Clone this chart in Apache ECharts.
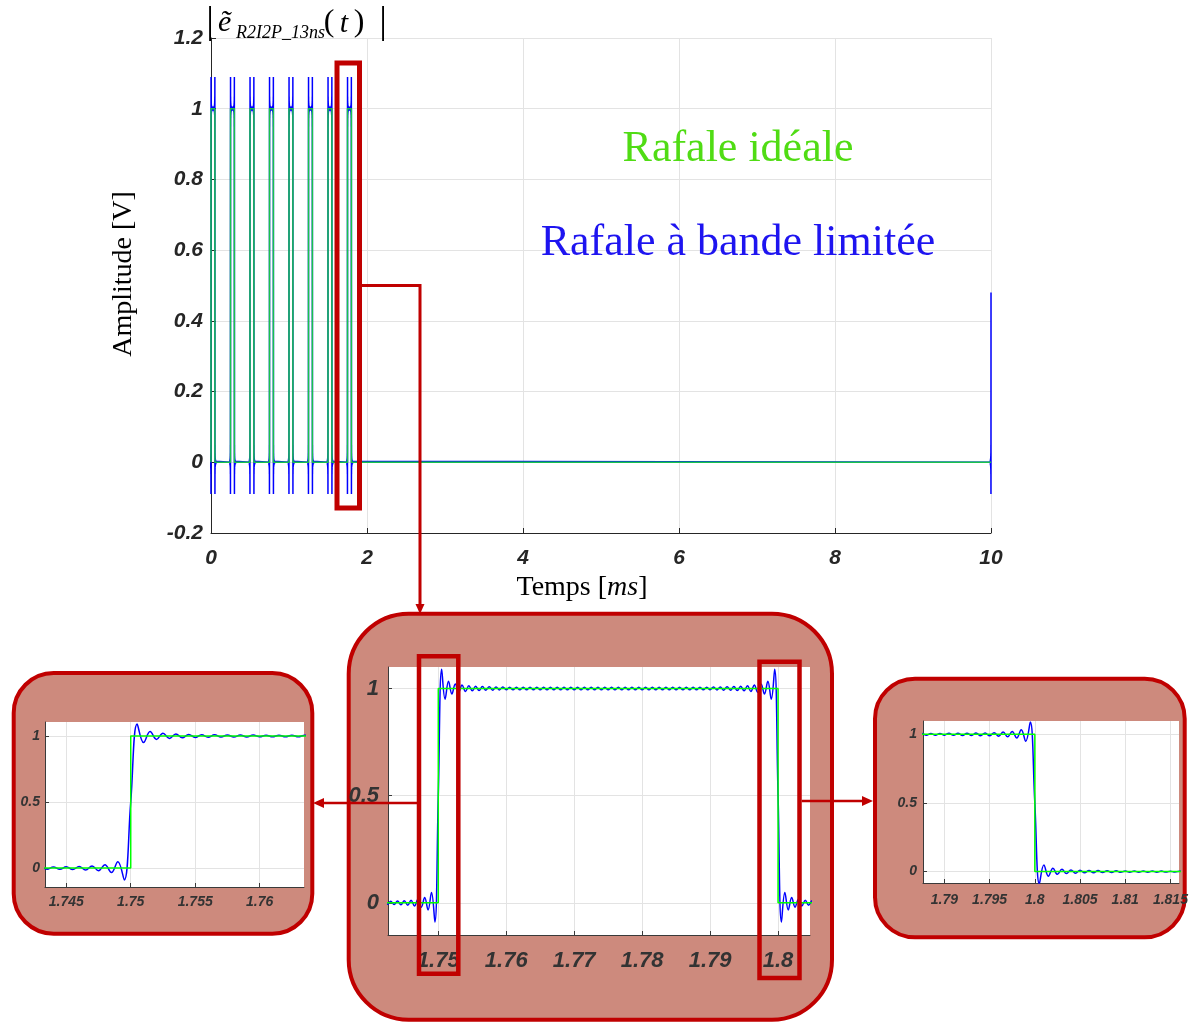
<!DOCTYPE html>
<html><head><meta charset="utf-8">
<script src="https://cdn.jsdelivr.net/npm/echarts@6/dist/echarts.min.js"></script>
<style>html,body{margin:0;padding:0;background:#fff}#c{width:1192px;height:1024px}</style>
</head><body><div id="c"></div>
<script>
// ---------- data ----------
const burstStartsMs = [0, 0.25, 0.5, 0.75, 1.0, 1.25, 1.5, 1.75];
const pulseWidthMs = 0.05;
const endTimeMs = 10;
// band-limited pulse, sampled every 0.5 us from -8.5 us to +66.5 us after each pulse start
const shapeStartUs = -8.5;
const shapeStepUs = 0.5;
const pulseShape = [
  0,
  0.0063,-0.0068,0.0072,-0.0078,0.0084,-0.0092,0.0101,-0.0112,0.0126,-0.0144,0.0168,-0.0201,0.0250,-0.0331,0.0486,-0.0895,
  0.5,
  1.090,0.950,1.034,0.974,1.021,0.982,1.016,0.986,1.012,0.989,1.010,0.990,1.009,0.992,1.008,0.992,1.007,0.993,1.007,0.994,
  1.006,0.994,1.006,0.994,1.006,0.994,1.006,0.994,1.006,0.994,
  1.006,0.994,1.006,0.994,1.006,0.994,1.006,0.994,1.006,0.994,
  1.006,0.994,1.006,0.994,1.006,0.994,1.006,0.994,1.006,0.994,
  1.006,0.994,1.006,0.994,1.006,0.994,1.006,0.994,1.006,0.994,
  1.006,0.994,1.006,0.994,1.006,0.994,1.006,0.994,1.006,0.994,
  1.006,0.994,1.006,0.994,1.006,0.994,1.006,0.994,1.006,
  0.994,1.007,0.993,1.007,0.992,1.008,0.992,1.009,0.990,1.010,0.989,1.012,0.986,1.016,0.982,1.021,0.974,1.034,0.950,1.090,
  0.5,
  -0.0895,0.0486,-0.0331,0.0250,-0.0201,0.0168,-0.0144,0.0126,-0.0112,0.0101,-0.0092,0.0084,-0.0078,0.0072,-0.0068,0.0063,
  -0.0060,0.0056,-0.0053,0.0051,-0.0048,0.0046,-0.0044,0.0042,-0.0041,0.0039,-0.0038,0.0036,-0.0035,0.0034,-0.0033,0.0032,
  0
];
// start of the next burst at t = 10 ms (samples from -8.5 us to 0)
const edgeAt10 = [0,0.0063,-0.0068,0.0072,-0.0078,0.0084,-0.0092,0.0101,-0.0112,0.0126,-0.0144,0.0168,-0.0201,0.0250,-0.0331,0.0486,-0.0895,0.48];

const midXTicks = [1.75, 1.76, 1.77, 1.78, 1.79, 1.8];
const leftXTicks = [1.745, 1.75, 1.755, 1.76];
const rightXTicks = [1.79, 1.795, 1.8, 1.805, 1.81, 1.815];
const insetYTicks = [0, 0.5, 1];

// ---------- build series ----------
const blue = [];
burstStartsMs.forEach(t0 => pulseShape.forEach((v, i) => blue.push([t0 + (shapeStartUs + i * shapeStepUs) / 1000, v])));
edgeAt10.forEach((v, i) => blue.push([endTimeMs + (shapeStartUs + i * shapeStepUs) / 1000, v]));
const green = [];
burstStartsMs.forEach(t0 => { green.push([t0, 0], [t0, 1], [t0 + pulseWidthMs, 1], [t0 + pulseWidthMs, 0]); });
green.push([endTimeMs, 0]);

const fmt = v => String(parseFloat((+v).toFixed(4)));
const labFont = (size, color, margin) => ({fontFamily: 'Liberation Sans', fontWeight: 'bold', fontStyle: 'italic', fontSize: size, color: color, margin: margin, formatter: fmt});
const GRIDC = '#e3e3e3';

function insetX(idx, min, max, ticks, size, margin) {
  return {gridIndex: idx, type: 'value', min, max,
    axisLine: {show: true, onZero: false, lineStyle: {color: '#3a3a3a', width: 1}},
    axisTick: {show: true, inside: true, length: 4, customValues: ticks, lineStyle: {color: '#3a3a3a'}},
    axisLabel: Object.assign(labFont(size, '#333', margin), {customValues: ticks}),
    splitLine: {show: true, lineStyle: {color: GRIDC}}};
}
function insetY(idx, min, max, size, margin) {
  return {gridIndex: idx, type: 'value', min, max,
    axisLine: {show: true, onZero: false, lineStyle: {color: '#3a3a3a', width: 1}},
    axisTick: {show: true, inside: true, length: 4, customValues: insetYTicks, lineStyle: {color: '#3a3a3a'}},
    axisLabel: Object.assign(labFont(size, '#333', margin), {customValues: insetYTicks}),
    splitLine: {show: true, lineStyle: {color: GRIDC}}};
}
function pair(idx, greenColor, smooth) {
  return [
    {type: 'line', xAxisIndex: idx, yAxisIndex: idx, data: blue, showSymbol: false, smooth: smooth, clip: true,
     lineStyle: {color: '#0000ff', width: 1.5}, z: 2},
    {type: 'line', xAxisIndex: idx, yAxisIndex: idx, data: green, showSymbol: false, clip: true,
     lineStyle: {color: greenColor, width: 1.5}, z: 3}
  ];
}

const RED = '#c00000';
const FILL = '#cd8a7d';
const serif = 'Liberation Serif';

const option = {
  animation: false,
  backgroundColor: '#fff',
  grid: [
    {left: 211, top: 38, width: 780, height: 495, outerBoundsMode: 'none'},
    {left: 388, top: 667, width: 422, height: 268, show: true, backgroundColor: '#fff', borderWidth: 0, outerBoundsMode: 'none'},
    {left: 45, top: 722, width: 259, height: 165, show: true, backgroundColor: '#fff', borderWidth: 0, outerBoundsMode: 'none'},
    {left: 923, top: 721, width: 256, height: 162, show: true, backgroundColor: '#fff', borderWidth: 0, outerBoundsMode: 'none'}
  ],
  xAxis: [
    {gridIndex: 0, type: 'value', min: 0, max: 10, interval: 2,
     axisLine: {show: true, onZero: false, lineStyle: {color: '#262626'}},
     axisTick: {show: true, inside: true, length: 5, lineStyle: {color: '#262626'}},
     axisLabel: labFont(21, '#262626', 15),
     splitLine: {show: true, lineStyle: {color: GRIDC}}},
    insetX(1, 1.7426, 1.8047, midXTicks, 22, 15),
    insetX(2, 1.74335, 1.76344, leftXTicks, 14, 8),
    insetX(3, 1.78763, 1.81595, rightXTicks, 14, 10)
  ],
  yAxis: [
    {gridIndex: 0, type: 'value', min: -0.2, max: 1.2, interval: 0.2,
     axisLine: {show: true, onZero: false, lineStyle: {color: '#262626'}},
     axisTick: {show: true, inside: true, length: 5, lineStyle: {color: '#262626'}},
     axisLabel: labFont(21, '#262626', 8),
     splitLine: {show: true, lineStyle: {color: GRIDC}}},
    insetY(1, -0.15, 1.1, 22, 9),
    insetY(2, -0.143, 1.106, 14, 5),
    insetY(3, -0.083, 1.097, 14, 6)
  ],
  series: [].concat(pair(0, '#19c34b', false), pair(1, '#00ff00', 0.4), pair(2, '#00ff00', 0.4), pair(3, '#00ff00', 0.4)),
  graphic: {elements: [
    // inset backgrounds
    {type: 'rect', z: -10, shape: {x: 348.7, y: 613.7, width: 483.3, height: 406, r: 60}, style: {fill: FILL, stroke: RED, lineWidth: 4}},
    {type: 'rect', z: -10, shape: {x: 13.7, y: 673, width: 298.6, height: 260.7, r: 40}, style: {fill: FILL, stroke: RED, lineWidth: 4}},
    {type: 'rect', z: -10, shape: {x: 875, y: 678.7, width: 309.7, height: 258.6, r: 40}, style: {fill: FILL, stroke: RED, lineWidth: 4}},
    // highlight box on main chart + connector
    {type: 'rect', z: 50, shape: {x: 337, y: 63, width: 22.5, height: 445}, style: {fill: 'none', stroke: RED, lineWidth: 5}},
    {type: 'polyline', z: 50, shape: {points: [[359, 285.5], [420, 285.5], [420, 605]]}, style: {fill: 'none', stroke: RED, lineWidth: 3}},
    {type: 'polygon', z: 50, shape: {points: [[415.5, 604], [424.5, 604], [420, 614]]}, style: {fill: RED}},
    // boxes in the middle inset
    {type: 'rect', z: 50, shape: {x: 419, y: 656.3, width: 39.3, height: 317.4}, style: {fill: 'none', stroke: RED, lineWidth: 4.5}},
    {type: 'rect', z: 50, shape: {x: 759.5, y: 661.7, width: 40, height: 316.3}, style: {fill: 'none', stroke: RED, lineWidth: 4.5}},
    // arrows to side insets
    {type: 'line', z: 50, shape: {x1: 419, y1: 803, x2: 322, y2: 803}, style: {stroke: RED, lineWidth: 2.5}},
    {type: 'polygon', z: 50, shape: {points: [[313, 803], [324, 798], [324, 808]]}, style: {fill: RED}},
    {type: 'line', z: 50, shape: {x1: 801.7, y1: 801, x2: 864, y2: 801}, style: {stroke: RED, lineWidth: 2.5}},
    {type: 'polygon', z: 50, shape: {points: [[873, 801], [862, 796], [862, 806]]}, style: {fill: RED}},
    // title |e~_{R2I2P_13ns}(t)|
    {type: 'text', z: 60, style: {text: '|', x: 210, y: 23, align: 'center', verticalAlign: 'middle', font: '38px "Liberation Serif"', fill: '#000'}},
    {type: 'text', z: 60, style: {text: 'ẽ', x: 218, y: 23, align: 'left', verticalAlign: 'middle', font: 'italic 30px "Liberation Serif"', fill: '#000'}},
    {type: 'text', z: 60, style: {text: 'R2I2P_13ns', x: 236, y: 33, align: 'left', verticalAlign: 'middle', font: 'italic 18px "Liberation Serif"', fill: '#000'}},
    {type: 'text', z: 60, style: {text: '(', x: 329, y: 23, align: 'center', verticalAlign: 'middle', font: '32px "Liberation Serif"', fill: '#000'}},
    {type: 'text', z: 60, style: {text: 't', x: 344, y: 24, align: 'center', verticalAlign: 'middle', font: 'italic 30px "Liberation Serif"', fill: '#000'}},
    {type: 'text', z: 60, style: {text: ')', x: 359, y: 23, align: 'center', verticalAlign: 'middle', font: '32px "Liberation Serif"', fill: '#000'}},
    {type: 'text', z: 60, style: {text: '|', x: 383, y: 23, align: 'center', verticalAlign: 'middle', font: '38px "Liberation Serif"', fill: '#000'}},
    // axis names
    {type: 'text', z: 60, x: 124, y: 274, rotation: Math.PI / 2,
     style: {text: 'Amplitude [V]', x: 0, y: 0, align: 'center', verticalAlign: 'middle', font: '28px "Liberation Serif"', fill: '#000'}},
    {type: 'text', z: 60, style: {text: '{n|Temps [}{i|ms}{n|]}', x: 582, y: 588, align: 'center', verticalAlign: 'middle',
      rich: {n: {fontFamily: serif, fontSize: 28, fill: '#000'}, i: {fontFamily: serif, fontSize: 28, fontStyle: 'italic', fill: '#000'}}}},
    // legend-like texts
    {type: 'text', z: 60, style: {text: 'Rafale idéale', x: 738, y: 149, align: 'center', verticalAlign: 'middle', font: '44px "Liberation Serif"', fill: '#50dc14'}},
    {type: 'text', z: 60, style: {text: 'Rafale à bande limitée', x: 738, y: 243, align: 'center', verticalAlign: 'middle', font: '44px "Liberation Serif"', fill: '#1e14f0'}}
  ]}
};
const chart = echarts.init(document.getElementById('c'), null, {renderer: 'canvas'});
chart.setOption(option);
</script>
</body></html>
